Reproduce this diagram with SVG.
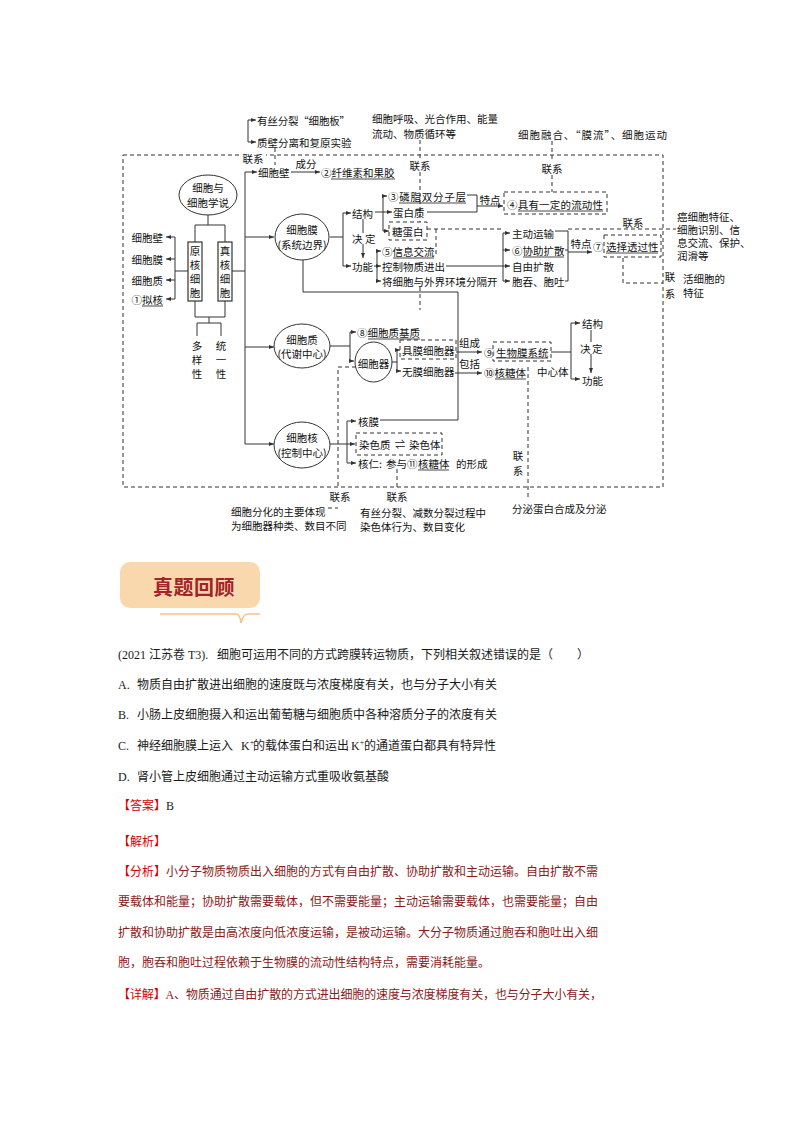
<svg xmlns="http://www.w3.org/2000/svg" width="794" height="1123" viewBox="0 0 794 1123">
<style>
.t{font-family:"Noto Sans CJK SC",sans-serif;font-size:10.5px;fill:#111;dominant-baseline:central}
.m{text-anchor:middle}
.e{text-anchor:end}
.l{stroke:#333;stroke-width:1;fill:none}
.d{stroke:#333;stroke-width:1;fill:none;stroke-dasharray:4 3}
.a{marker-end:url(#ah)}
.u{stroke:#333;stroke-width:0.9}
.nd{fill:#fff;stroke:#333;stroke-width:1}
.bx{fill:none;stroke:#333;stroke-width:1.2}
.b{font-family:"Liberation Serif","Noto Sans CJK SC",serif;font-size:12px;fill:#1a1a1a;dominant-baseline:central}
.r{fill:#d40000}
.mr{fill:#8b1a1a}
</style>
<defs>
<marker id="ah" viewBox="0 0 6 6" refX="6" refY="3" markerWidth="5" markerHeight="5" markerUnits="userSpaceOnUse" orient="auto"><path d="M0,0.6 L6,3 L0,5.4z" fill="#333"/></marker>
</defs>
<rect width="794" height="1123" fill="#fff"/>

<!-- main dashed frame -->
<rect class="d" x="123" y="155" width="540" height="332"/>

<g id="connectors">
<path class="l a" d="M248,120 H256"/>
<path class="l a" d="M248,120 V142 H256"/>
<path class="l" d="M245,172 V444"/>
<path class="l a" d="M245,172 H257"/>
<path class="l a" d="M291,172 H320"/>
<path class="l" d="M208,215 V225 M195,242 V225 H225 V242"/>
<path class="l" d="M188,271 H175 M175,237 V299"/>
<path class="l a" d="M175,237 H166"/>
<path class="l a" d="M175,259 H166"/>
<path class="l a" d="M175,280 H166"/>
<path class="l a" d="M175,299 H166"/>
<path class="l" d="M232,271 H245"/>
<path class="l" d="M195,301 V317 H225 V301 M209,317 V323 M197,336 V323 H221 V336"/>
<path class="l a" d="M245,237 H274"/>
<path class="l" d="M330,237 H343 M343,213 V266"/>
<path class="l a" d="M343,213 H351"/>
<path class="l a" d="M343,266 H351"/>
<path class="l a" d="M363,219 V258"/>
<path class="l a" d="M375,212 H392"/>
<path class="l a" d="M383,212 V196 H387"/>
<path class="l a" d="M383,212 V231 H389"/>
<path class="l" d="M467,195 H477 V212 H427"/>
<path class="l a" d="M477,206 H503"/>
<path class="l a" d="M374,266 H381"/>
<path class="l" d="M377,251 V281"/>
<path class="l a" d="M377,251 H381"/>
<path class="l a" d="M377,281 H381"/>
<path class="l a" d="M446,266 H510"/>
<path class="l" d="M503,233 V281"/>
<path class="l a" d="M503,233 H510"/>
<path class="l a" d="M503,250 H510"/>
<path class="l a" d="M503,281 H510"/>
<path class="l" d="M555,231 H568 V281 H565 M565,250 H568"/>
<path class="l a" d="M568,252 H592"/>
<path class="l" d="M303,260 V292 H458 V420 H380"/>
<path class="l a" d="M245,347 H274"/>
<path class="l" d="M330,346 H350 M350,332 V361"/>
<path class="l a" d="M350,332 H356"/>
<path class="l a" d="M350,361 H354"/>
<path class="l" d="M392,362 H397 M397,350 V371"/>
<path class="l a" d="M397,350 H400"/>
<path class="l a" d="M397,371 H401"/>
<path class="l a" d="M456,352 H482"/>
<path class="l a" d="M455,373 H482"/>
<path class="l" d="M551,352 H571 M571,323 V379"/>
<path class="l a" d="M571,323 H580"/>
<path class="l a" d="M571,379 H580"/>
<path class="l a" d="M591,330 V373"/>
<path class="l a" d="M245,444 H274"/>
<path class="l" d="M330,444 H347" stroke-width="2"/>
<path class="l" d="M347,421 V463"/>
<path class="l a" d="M347,421 H356"/>
<path class="l a" d="M347,444 H355"/>
<path class="l a" d="M347,463 H356"/>
<!-- dashed links -->
<path class="d" d="M275,148 V165"/>
<path class="d" d="M420,140 V158 M420,172 V222"/>
<path class="d" d="M552,141 V161 M552,175 V192"/>
<path class="d" d="M427,229 H501 M568,229 H676"/>
<path class="d" d="M436,229 V256"/>
<path class="d" d="M623,258 V283 H663"/>
<path class="d" d="M420,287 V310"/>
<path class="d" d="M528,367 V498"/>
<path class="d" d="M356,367 H338 V487"/>
<path class="d" d="M397,469 V487"/>
<path class="d" d="M328,508 H338"/>
</g>

<!-- top outside texts -->
<g id="n-top-left">
<text class="t" x="257" y="120" textLength="93">有丝分裂“细胞板”</text>
<text class="t" x="257" y="142">质壁分离和复原实验</text>
<rect x="240" y="151" width="26" height="14" fill="#fff"/>
<text class="t m" x="253" y="158">联系</text>
</g>
<g id="n-top-mid">
<text class="t" x="372" y="118">细胞呼吸、光合作用、能量</text>
<text class="t" x="372" y="133">流动、物质循环等</text>
<text class="t m" x="420" y="165">联系</text>
</g>
<g id="n-top-right">
<text class="t" x="518" y="134" textLength="149">细胞融合、“膜流”、细胞运动</text>
<text class="t m" x="552" y="168">联系</text>
</g>

<g id="n-wall">
<text class="t" x="258" y="172">细胞壁</text>
<text class="t m" x="306" y="163">成分</text>
<text class="t" x="321" y="172">②纤维素和果胶</text>
<line class="u" x1="331" y1="179" x2="395" y2="179"/>
</g>

<g id="n-theory">
<ellipse class="nd" cx="208" cy="195" rx="29" ry="20"/>
<text class="t m" x="208" y="187">细胞与</text>
<text class="t m" x="208" y="202">细胞学说</text>
</g>
<g id="n-prok">
<rect class="bx" x="188" y="242" width="14" height="59" fill="#fff"/>
<text class="t m" x="195" y="250"><tspan x="195">原</tspan><tspan x="195" dy="14">核</tspan><tspan x="195" dy="14">细</tspan><tspan x="195" dy="14">胞</tspan></text>
</g>
<g id="n-euk">
<rect class="bx" x="218" y="242" width="14" height="59" fill="#fff"/>
<text class="t m" x="225" y="250"><tspan x="225">真</tspan><tspan x="225" dy="14">核</tspan><tspan x="225" dy="14">细</tspan><tspan x="225" dy="14">胞</tspan></text>
</g>
<g id="n-prok-parts">
<text class="t e" x="163" y="237">细胞壁</text>
<text class="t e" x="163" y="259">细胞膜</text>
<text class="t e" x="163" y="280">细胞质</text>
<text class="t e" x="163" y="299">①拟核</text>
<line class="u" x1="142" y1="306" x2="163" y2="306"/>
</g>
<g id="n-diversity">
<text class="t m" x="197" y="345"><tspan x="197">多</tspan><tspan x="197" dy="14">样</tspan><tspan x="197" dy="14">性</tspan></text>
</g>
<g id="n-unity">
<text class="t m" x="221" y="345"><tspan x="221">统</tspan><tspan x="221" dy="14">一</tspan><tspan x="221" dy="14">性</tspan></text>
</g>

<g id="n-membrane">
<ellipse class="nd" cx="302" cy="237" rx="27" ry="23"/>
<text class="t m" x="302" y="229">细胞膜</text>
<text class="t m" x="302" y="244">(系统边界)</text>
</g>
<g id="n-struct-func">
<text class="t" x="352" y="213">结构</text>
<rect x="352" y="233" width="22" height="11" fill="#fff"/>
<text class="t" x="352" y="238">决</text>
<text class="t" x="365" y="238">定</text>
<text class="t" x="352" y="266">功能</text>
</g>
<g id="n-components">
<text class="t" x="388" y="196" textLength="78">③磷脂双分子层</text>
<line class="u" x1="399" y1="203" x2="466" y2="203"/>
<text class="t" x="393" y="212">蛋白质</text>
<rect class="d" x="389" y="222" width="38" height="18"/>
<text class="t" x="392" y="231">糖蛋白</text>
<text class="t m" x="490" y="199">特点</text>
</g>
<g id="n-fluidity">
<rect class="d" x="504" y="192" width="103" height="22"/>
<text class="t" x="507" y="204" textLength="96">④具有一定的流动性</text>
<line class="u" x1="518" y1="211" x2="603" y2="211"/>
</g>
<g id="n-functions">
<text class="t" x="382" y="251">⑤信息交流</text>
<line class="u" x1="393" y1="258" x2="434" y2="258"/>
<text class="t" x="382" y="266">控制物质进出</text>
<text class="t" x="382" y="281">将细胞与外界环境分隔开</text>
</g>
<g id="n-transport">
<text class="t" x="512" y="233">主动运输</text>
<text class="t" x="512" y="250">⑥协助扩散</text>
<line class="u" x1="523" y1="257" x2="564" y2="257"/>
<text class="t" x="512" y="266">自由扩散</text>
<text class="t" x="512" y="281">胞吞、胞吐</text>
<text class="t m" x="581" y="243">特点</text>
</g>
<g id="n-selective">
<text class="t" x="593" y="246">⑦</text>
<rect class="d" x="604" y="235" width="57" height="22"/>
<text class="t" x="606" y="246">选择透过性</text>
<line class="u" x1="606" y1="253" x2="658" y2="253"/>
<text class="t m" x="633" y="222">联系</text>
</g>
<g id="n-right">
<text class="t" x="677" y="216">癌细胞特征、</text>
<text class="t" x="677" y="229">细胞识别、信</text>
<text class="t" x="677" y="242">息交流、保护、</text>
<text class="t" x="677" y="255">润滑等</text>
<text class="t m" x="670" y="276">联</text>
<text class="t m" x="670" y="293">系</text>
<text class="t" x="683" y="278">活细胞的</text>
<text class="t" x="683" y="292">特征</text>
</g>

<g id="n-cytoplasm">
<ellipse class="nd" cx="302" cy="346" rx="28" ry="22"/>
<text class="t m" x="302" y="339">细胞质</text>
<text class="t m" x="302" y="353">(代谢中心)</text>
</g>
<g id="n-matrix">
<text class="t" x="357" y="332">⑧细胞质基质</text>
<line class="u" x1="368" y1="339" x2="420" y2="339"/>
</g>
<g id="n-organelle">
<ellipse class="nd" cx="373.5" cy="362" rx="18.5" ry="20"/>
<text class="t m" x="373.5" y="363">细胞器</text>
</g>
<g id="n-membranous">
<rect class="d" x="400" y="340" width="56" height="19"/>
<text class="t" x="402" y="350">具膜细胞器</text>
<text class="t" x="402" y="371">无膜细胞器</text>
<text class="t" x="459" y="342">组成</text>
<text class="t" x="459" y="363">包括</text>
</g>
<g id="n-biomembrane">
<text class="t" x="484" y="352">⑨</text>
<rect class="d" x="493" y="342" width="58" height="19"/>
<text class="t" x="496" y="352">生物膜系统</text>
<line class="u" x1="496" y1="358" x2="548" y2="358"/>
</g>
<g id="n-ribosome">
<text class="t" x="484" y="372">⑩核糖体</text>
<line class="u" x1="495" y1="379" x2="526" y2="379"/>
<text class="t" x="537" y="371">中心体</text>
</g>
<g id="n-struct-func2">
<text class="t" x="582" y="323">结构</text>
<rect x="580" y="342" width="22" height="12" fill="#fff"/>
<text class="t" x="580" y="348">决</text>
<text class="t" x="592" y="348">定</text>
<text class="t" x="582" y="380">功能</text>
</g>

<g id="n-nucleus">
<ellipse class="nd" cx="302" cy="445" rx="28" ry="23"/>
<text class="t m" x="302" y="437">细胞核</text>
<text class="t m" x="302" y="452">(控制中心)</text>
</g>
<g id="n-nuc-parts">
<text class="t" x="358" y="421">核膜</text>
<rect class="d" x="356" y="433" width="86" height="22"/>
<text class="t" x="359" y="444">染色质</text>
<text class="t m" x="400" y="443" font-family="DejaVu Sans, sans-serif">⇌</text>
<text class="t" x="409" y="444">染色体</text>
<text class="t" x="358" y="463">核仁:</text>
<text class="t" x="386" y="463">参与</text>
<text class="t" x="407" y="463">⑪</text>
<text class="t" x="418" y="463">核糖体</text>
<line class="u" x1="418" y1="470" x2="449" y2="470"/>
<text class="t" x="456" y="463">的形成</text>
</g>
<g id="n-bottom-left">
<text class="t m" x="340" y="496">联系</text>
<text class="t" x="231" y="511">细胞分化的主要体现</text>
<text class="t" x="231" y="525">为细胞器种类、数目不同</text>
</g>
<g id="n-bottom-mid">
<text class="t m" x="397" y="496">联系</text>
<text class="t" x="360" y="512">有丝分裂、减数分裂过程中</text>
<text class="t" x="360" y="526">染色体行为、数目变化</text>
</g>
<g id="n-bottom-right">
<text class="t m" x="518" y="455">联</text>
<text class="t m" x="518" y="470">系</text>
<text class="t" x="512" y="508">分泌蛋白合成及分泌</text>
</g>

<!-- badge -->
<g id="badge">
<rect x="120" y="562" width="140" height="46" rx="10" fill="#f9d8ad"/>
<text x="194" y="586" text-anchor="middle" dominant-baseline="central" font-family="Noto Sans CJK SC, sans-serif" font-size="20" font-weight="bold" letter-spacing="0.5" fill="#a3232a">真题回顾</text>
<path d="M160,614 H236 Q240,614 241,623 Q243,614 248,614 H260" fill="none" stroke="#f4c48e" stroke-width="1.6"/>
</g>

<!-- question text -->
<g id="question">
<text class="b" x="118" y="655">(2021 江苏卷 T3).</text>
<text class="b" x="217" y="655">细胞可运用不同的方式跨膜转运物质，下列相关叙述错误的是（　　）</text>
<text class="b" x="118" y="685">A.</text>
<text class="b" x="137" y="685">物质自由扩散进出细胞的速度既与浓度梯度有关，也与分子大小有关</text>
<text class="b" x="118" y="715">B.</text>
<text class="b" x="137" y="715">小肠上皮细胞摄入和运出葡萄糖与细胞质中各种溶质分子的浓度有关</text>
<text class="b" x="118" y="746">C.</text>
<text class="b" x="137" y="746">神经细胞膜上运入</text>
<text class="b" x="241" y="746">K<tspan font-size="8" dy="-4">+</tspan></text>
<text class="b" x="253" y="746">的载体蛋白和运出</text>
<text class="b" x="351" y="746">K<tspan font-size="8" dy="-4">+</tspan></text>
<text class="b" x="364" y="746">的通道蛋白都具有特异性</text>
<text class="b" x="118" y="777">D.</text>
<text class="b" x="137" y="777">肾小管上皮细胞通过主动运输方式重吸收氨基酸</text>
</g>
<g id="answer">
<text class="b" x="118" y="806"><tspan class="r">【答案】</tspan>B</text>
<text class="b r" x="118" y="842">【解析】</text>
<text class="b mr" x="118" y="872"><tspan class="r">【分析】</tspan>小分子物质物质出入细胞的方式有自由扩散、协助扩散和主动运输。自由扩散不需</text>
<text class="b mr" x="118" y="902">要载体和能量；协助扩散需要载体，但不需要能量；主动运输需要载体，也需要能量；自由</text>
<text class="b mr" x="118" y="933">扩散和协助扩散是由高浓度向低浓度运输，是被动运输。大分子物质通过胞吞和胞吐出入细</text>
<text class="b mr" x="118" y="963">胞，胞吞和胞吐过程依赖于生物膜的流动性结构特点，需要消耗能量。</text>
<text class="b mr" x="118" y="995" textLength="484"><tspan class="r">【详解】</tspan>A、物质通过自由扩散的方式进出细胞的速度与浓度梯度有关，也与分子大小有关，</text>
</g>
</svg>
